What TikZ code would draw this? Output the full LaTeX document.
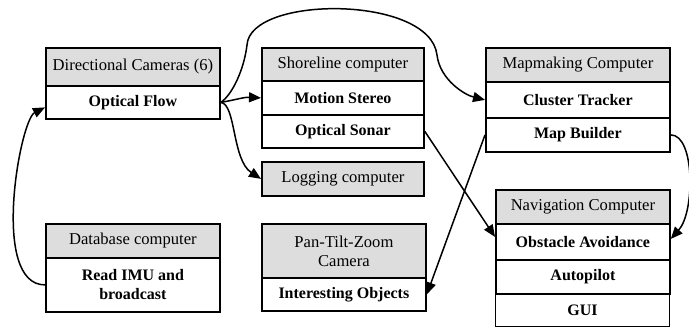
\documentclass[tikz,border=0pt]{standalone}
\usepackage{fontspec}
\setmainfont{Liberation Serif}
\usetikzlibrary{arrows.meta}
\definecolor{hdr}{RGB}{221,221,221}
\begin{document}
\begin{tikzpicture}[x=1pt,y=-1pt,
  cellbase/.style={draw,line width=1.8pt,inner sep=0pt,anchor=north west,align=center},
  hcell/.style={cellbase,fill=hdr,font=\fontsize{16.6}{19}\selectfont},
  bcell/.style={cellbase,fill=white,font=\fontsize{16}{19}\selectfont\bfseries},
  thincell/.style={bcell,line width=0.9pt},
  arr/.style={line width=1.5pt,-{Triangle[length=12pt,width=10pt]}}]
\useasboundingbox (0,0) rectangle (689,328);
% Directional Cameras
\node[hcell,minimum width=174,minimum height=38] (dc) at (45,47) {Directional Cameras (6)};
\node[bcell,minimum width=174,minimum height=33] (of) at (45,85) {Optical Flow};
% Shoreline
\node[hcell,minimum width=162,minimum height=33] (sc) at (261,47) {Shoreline computer};
\node[bcell,minimum width=162,minimum height=34] (ms) at (261,80) {Motion Stereo};
\node[bcell,minimum width=162,minimum height=33] (os) at (261,114) {Optical Sonar};
% Logging
\node[hcell,minimum width=162,minimum height=34] (lg) at (261,161) {Logging computer};
% Mapmaking
\node[hcell,minimum width=184,minimum height=34] (mc) at (485,47) {Mapmaking Computer};
\node[bcell,minimum width=184,minimum height=36] (ct) at (485,81) {Cluster Tracker};
\node[bcell,minimum width=184,minimum height=34] (mb) at (485,117) {Map Builder};
% Navigation
\node[thincell,minimum width=174,minimum height=33] (gui) at (495,293) {GUI};
\node[hcell,minimum width=174,minimum height=34] (nc) at (495,189) {Navigation Computer};
\node[bcell,minimum width=174,minimum height=36] (oa) at (495,223) {Obstacle Avoidance};
\node[bcell,minimum width=174,minimum height=34] (ap) at (495,259) {Autopilot};
% Database
\node[hcell,minimum width=174,minimum height=34] (db) at (45,223) {Database computer};
\node[bcell,minimum width=174,minimum height=54] (rd) at (45,257) {Read IMU and\\broadcast};
% Pan-Tilt-Zoom
\node[hcell,minimum width=164,minimum height=54] (pt) at (261,223) {Pan-Tilt-Zoom\\Camera};
\node[bcell,minimum width=164,minimum height=33] (io) at (261,277) {Interesting Objects};
% connectors
\draw[arr] (of.east) .. controls (235,100) and (244,97) .. (ms.west);
\draw[arr] (of.east) .. controls (236,104) and (232,160) .. (lg.west);
\draw[arr] (of.east) .. controls (232,95) and (244,70) .. (247,45)
  .. controls (250,-5) and (430,-5) .. (437,55)
  .. controls (440,80) and (465,95) .. (ct.west);
\draw[arr] (os.east) -- ([yshift=5pt]oa.west);
\draw[arr] (mb.west) -- (io.east);
\draw[arr] (mb.east) .. controls (695,135) and (695,212) .. ([yshift=3pt]oa.east);
\draw[arr] (rd.west) .. controls (-10,285) and (20,120) .. ([yshift=-5pt]of.west);
\end{tikzpicture}
\end{document}
